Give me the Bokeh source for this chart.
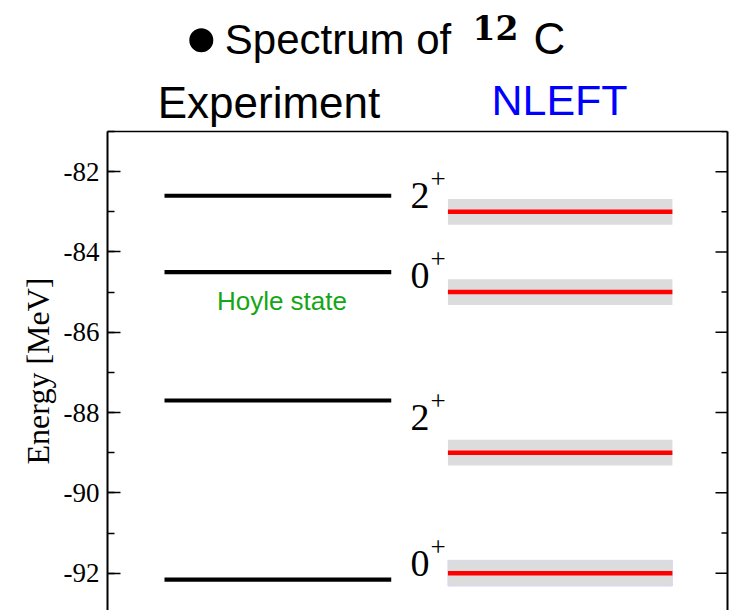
from bokeh.plotting import figure
from bokeh.layouts import column
from bokeh.models import (Range1d, LinearAxis, SingleIntervalTicker, FixedTicker,
                          ColumnDataSource, CustomJSTickFormatter)
from bokeh.embed import file_html
from bokeh.resources import INLINE
from bokeh.core.properties import value

# ---------------- data ----------------
exp_levels = [-82.6, -84.5, -87.7, -92.16]          # Experiment (MeV)
nleft_levels = [-83.0, -85.0, -89.0, -92.0]         # NLEFT (MeV)
nleft_errors = [0.32, 0.32, 0.32, 0.32]             # NLEFT uncertainty (MeV)
spin_digits = ["2", "0", "2", "0"]                  # J
spin_parity = ["+", "+", "+", "+"]                  # parity
spin_label_y = [-82.93, -84.93, -88.46, -92.10]     # baseline of J^pi labels (MeV)
y_ticks_interval = 2

# ---------------- layout ----------------
W = 733
LEFT, RIGHT = 107, 6
TOP_H = 127          # height of the heading strip
GAP = 4              # border above the main frame
MAIN_H = 610 - TOP_H
X0, X1 = -0.2514, 2.483
Y0, Y1 = -92.93, -81.0
FW = W - LEFT - RIGHT
FH = MAIN_H - GAP
FRAME_TOP = TOP_H + GAP
BL = 0.35            # baseline correction (fraction of font size)
XPX = (X1 - X0) / FW  # data units per pixel (x)
YPX = (Y1 - Y0) / FH  # data units per pixel (y)


def dx(px):
    return X0 + (px - LEFT) * XPX


def dy(py):
    return Y1 - (py - FRAME_TOP) * YPX


xr = Range1d(X0, X1)

# ---------------- heading strip ----------------
t = figure(width=W, height=TOP_H, x_range=xr, y_range=Range1d(TOP_H, 0),
           x_axis_type=None, y_axis_type=None, toolbar_location=None,
           output_backend="svg", min_border_left=LEFT, min_border_right=RIGHT,
           min_border_top=0, min_border_bottom=0)
t.outline_line_color = None
t.background_fill_color = "white"
t.border_fill_color = "white"


def tt(text, px, py, size, font="Liberation Sans", color="black", align="center",
       style="normal"):
    t.text(x=[dx(px)], y=[py - BL * size], text=[text], text_font=value(font),
           text_font_size=f"{size}px", text_color=color, text_align=align,
           text_baseline="alphabetic", text_font_style=style)


t.scatter(x=[dx(200.8)], y=[39.7], size=24, marker="circle",
          fill_color="black", line_color=None)
tt("Spectrum of", 337.5, 53.3, 42)
tt("12", 495.0, 38.5, 33, font="DejaVu Serif", style="bold")
tt("C", 549.0, 53.3, 44)
tt("Experiment", 268.5, 117.0, 44)
tt("NLEFT", 559.0, 115.0, 43, color="#0000ff")

# ---------------- main figure ----------------
p = figure(width=W, height=MAIN_H, x_range=xr, y_range=Range1d(Y0, Y1),
           x_axis_type=None, y_axis_type=None, toolbar_location=None,
           output_backend="svg", min_border_left=LEFT, min_border_right=RIGHT,
           min_border_top=GAP, min_border_bottom=0)
p.outline_line_color = None
p.background_fill_color = "white"
p.border_fill_color = "white"

fmt = CustomJSTickFormatter(code="return tick.toFixed(0);")

yl = LinearAxis(ticker=SingleIntervalTicker(interval=y_ticks_interval, num_minor_ticks=2),
                formatter=fmt, axis_label="Energy [MeV]")
yl.axis_line_width = 2
yl.major_tick_in = 13
yl.major_tick_out = 0
yl.minor_tick_in = 7
yl.minor_tick_out = 0
yl.major_tick_line_width = 1.5
yl.minor_tick_line_width = 1.5
yl.major_label_text_font = "Liberation Serif"
yl.major_label_text_font_size = "27px"
yl.major_label_text_color = "black"
yl.major_label_standoff = 8
yl.axis_label_text_font = "Liberation Serif"
yl.axis_label_text_font_size = "32px"
yl.axis_label_text_font_style = "normal"
yl.axis_label_text_color = "black"
yl.axis_label_standoff = 5
p.add_layout(yl, "left")


def bare_axis(width):
    a = LinearAxis(ticker=FixedTicker(ticks=[]))
    a.axis_line_width = width
    a.major_tick_in = 0
    a.major_tick_out = 0
    a.minor_tick_in = 0
    a.minor_tick_out = 0
    a.major_label_standoff = 0
    return a


p.add_layout(bare_axis(2), "right")
p.add_layout(bare_axis(1.5), "above")

# right-side inward ticks (mirroring the left axis ticker)
first = int(Y0) if int(Y0) >= Y0 else int(Y0) + 1
tick_vals = list(range(first, int(Y1) + 1))
major_vals = [v for v in tick_vals if v % y_ticks_interval == 0]
minor_vals = [v for v in tick_vals if v % y_ticks_interval != 0]
p.segment(x0=X1 - 12 * XPX, x1=X1, y0=major_vals, y1=major_vals,
          line_color="black", line_width=1.5)
p.segment(x0=X1 - 6 * XPX, x1=X1, y0=minor_vals, y1=minor_vals,
          line_color="black", line_width=1.5)

NL_L, NL_R = 1.25, 2.24
nl_src = ColumnDataSource(dict(
    y=nleft_levels,
    lo=[v - e for v, e in zip(nleft_levels, nleft_errors)],
    hi=[v + e for v, e in zip(nleft_levels, nleft_errors)],
))
p.quad(left=NL_L, right=NL_R, bottom="lo", top="hi", source=nl_src,
       fill_color="#dcdcdc", line_color=None)
p.quad(left=NL_L, right=NL_R, bottom=[nleft_levels[-1] - nleft_errors[-1]],
       top=[nleft_levels[-1] + nleft_errors[-1]], fill_color=None,
       line_color="#d6d6f6", line_width=1)
p.segment(x0=NL_L, x1=NL_R, y0="y", y1="y", source=nl_src,
          line_color="#ff0000", line_width=4.5)

exp_src = ColumnDataSource(dict(y=exp_levels))
p.segment(x0=0.0, x1=1.0, y0="y", y1="y", source=exp_src,
          line_color="black", line_width=4.2)

DIG, SUP = 38, 27
lab_src = ColumnDataSource(dict(
    y=[v + BL * DIG * YPX for v in spin_label_y],
    ys=[v + 0.52 + BL * SUP * YPX for v in spin_label_y],
    d=spin_digits, s=spin_parity,
))
p.text(x=dx(410), y="y", text="d", source=lab_src,
       text_font=value("Liberation Serif"), text_font_size=f"{DIG}px",
       text_baseline="alphabetic", text_align="left", text_color="black")
p.text(x=dx(430), y="ys", text="s", source=lab_src,
       text_font=value("Liberation Serif"), text_font_size=f"{SUP}px",
       text_baseline="alphabetic", text_align="left", text_color="black")

HS = 26
p.text(x=[0.518], y=[dy(310 - BL * HS)], text=["Hoyle state"],
       text_font=value("Liberation Sans"), text_font_size=f"{HS}px",
       text_baseline="alphabetic", text_align="center", text_color="#14a614")

layout = column(t, p, spacing=0)
open("out.html", "w").write(file_html(layout, INLINE))
